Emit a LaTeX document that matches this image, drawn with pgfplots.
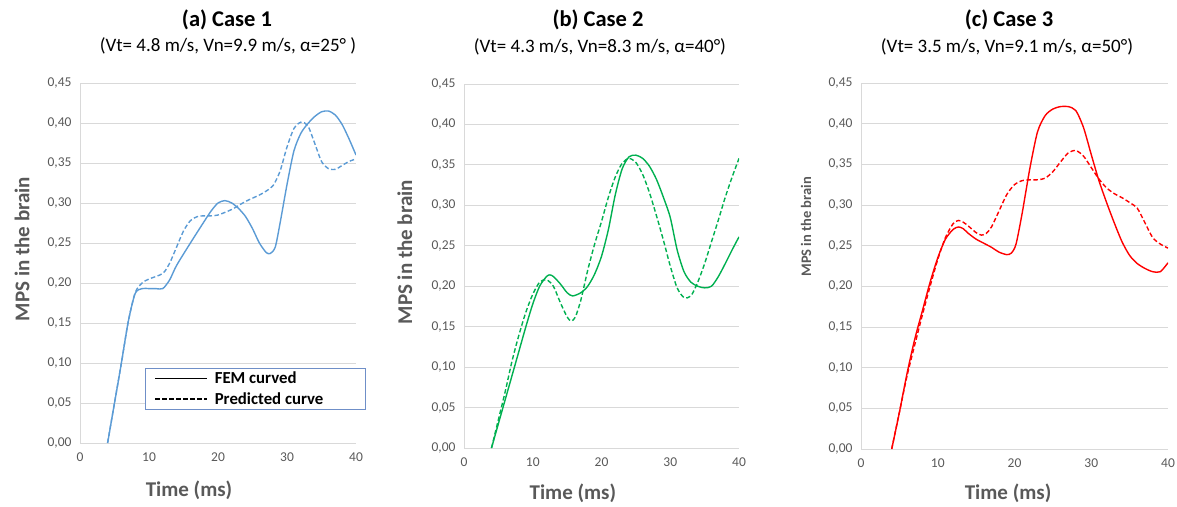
\documentclass[border=0pt]{standalone}
\usepackage{fontspec}
\setmainfont{Carlito}
\usepackage{pgfplots}
\pgfplotsset{compat=1.18}
\definecolor{txtgray}{HTML}{595959}
\definecolor{gridgray}{HTML}{D9D9D9}
\definecolor{caseblue}{HTML}{5B9BD5}
\definecolor{casegreen}{HTML}{00B050}
\definecolor{casered}{HTML}{FF0000}
\definecolor{legendblue}{HTML}{6F8FC8}

\pgfplotsset{
  mps/.style={
    scale only axis,
    xmin=0, xmax=40, ymin=0, ymax=0.45,
    xtick={0,10,20,30,40},
    ytick={0,0.05,0.1,0.15,0.2,0.25,0.3,0.35,0.4,0.45},
    axis x line=bottom, axis y line=left,
    axis line style={draw=gridgray, line width=0.8pt, -},
    major tick length=0pt,
    ymajorgrids, grid style={draw=gridgray, line width=0.8pt},
    /pgf/number format/assume math mode=true,
    tick label style={font=\fontsize{13.5}{15}\selectfont, text=txtgray},
    yticklabel style={/pgf/number format/fixed, /pgf/number format/fixed zerofill,
      /pgf/number format/precision=2, /pgf/number format/use comma, xshift=-5pt},
    xticklabel style={yshift=-6pt},
    xlabel={Time (ms)},
    ylabel={MPS in the brain},
    every axis x label/.style={anchor=center, text=txtgray, font=\fontsize{21}{24}\selectfont\bfseries},
    every axis y label/.style={anchor=center, rotate=90, text=txtgray, font=\fontsize{21}{24}\selectfont\bfseries},
  },
  fem/.style={line width=1.4pt, smooth, tension=0.45, no marks},
  pred/.style={line width=1.4pt, smooth, tension=0.45, no marks, dash pattern=on 4.5pt off 2.5pt},
}

\begin{document}
\begin{tikzpicture}
\path[use as bounding box] (0,0) rectangle (1177pt,-506pt);

% titles
\node[font=\fontsize{22.5}{24}\selectfont\bfseries] at (227pt,-20pt) {(a) Case 1};
\node[font=\fontsize{19}{21}\selectfont] at (228pt,-46pt) {(Vt= 4.8 m/s, Vn=9.9 m/s, α=25° )};
\node[font=\fontsize{22.5}{24}\selectfont\bfseries] at (598pt,-20pt) {(b) Case 2};
\node[font=\fontsize{19}{21}\selectfont] at (600pt,-47pt) {(Vt= 4.3 m/s, Vn=8.3 m/s, α=40°)};
\node[font=\fontsize{22.5}{24}\selectfont\bfseries] at (1009pt,-20pt) {(c) Case 3};
\node[font=\fontsize{19}{21}\selectfont] at (1007pt,-47pt) {(Vt= 3.5 m/s, Vn=9.1 m/s, α=50°)};

% (a)
\begin{axis}[mps,
  width=276pt, height=360pt,
  at={(80pt,-443pt)}, anchor=south west,
  xlabel style={at={(axis description cs:0.395,0)}, yshift=-47pt},
  ylabel style={at={(axis description cs:-0.21,0.539)}},
  legend style={at={(axis description cs:0.2355,0.0917)}, anchor=south west,
    draw=legendblue, line width=0.8pt, fill=white, text=black,
    font=\fontsize{16.8}{18}\selectfont\bfseries,
    inner xsep=9pt, inner ysep=2pt, row sep=3pt, legend cell align=left,
    /tikz/every odd column/.append style={column sep=5pt}},
  legend image code/.code={\draw[#1] (0pt,0pt) -- (52pt,0pt);},
]
\addplot[fem, caseblue, forget plot] coordinates {
 (4,0) (5,0.05) (6,0.10) (7,0.152) (8,0.187) (9,0.193) (10,0.193) (11,0.193)
 (12,0.193) (13,0.204) (14,0.222) (16,0.25) (18,0.277) (19,0.29) (20,0.300)
 (21,0.303) (22,0.300) (23,0.293) (24,0.283) (25,0.268) (26,0.25) (27,0.238)
 (27.6,0.237) (28.3,0.245) (29,0.275) (30,0.323) (31,0.365) (32,0.387) (33,0.399)
 (34,0.408) (35,0.414) (36,0.415) (37,0.41) (38,0.398) (39,0.38) (40,0.36)};
\addplot[pred, caseblue, forget plot] coordinates {
 (4,0) (5,0.05) (6,0.10) (7,0.152) (8,0.188) (9,0.2) (10,0.205) (12,0.212)
 (13,0.225) (14,0.245) (15,0.265) (16,0.278) (17,0.283) (18,0.284) (19,0.284)
 (20,0.285) (22,0.292) (24,0.302) (26,0.31) (27,0.315) (28,0.322) (29,0.34)
 (30,0.37) (31,0.393) (32,0.401) (33,0.397) (34,0.375) (35,0.352) (36,0.343)
 (37,0.342) (38,0.347) (39,0.352) (40,0.355)};
\addlegendimage{black, line width=1.4pt}
\addlegendentry{FEM curved}
\addlegendimage{black, line width=1.4pt, dash pattern=on 4.5pt off 2.5pt}
\addlegendentry{Predicted curve\hspace*{31pt}}
\end{axis}

% (b)
\begin{axis}[mps,
  width=275pt, height=364pt,
  at={(464pt,-448pt)}, anchor=south west,
  xlabel style={at={(axis description cs:0.396,0)}, yshift=-45pt},
  ylabel style={at={(axis description cs:-0.215,0.538)}},
]
\addplot[fem, casegreen] coordinates {
 (4,0) (5,0.03) (6,0.06) (7,0.09) (8,0.12) (9,0.15) (10,0.178) (11,0.2)
 (12,0.212) (12.5,0.214) (13,0.212) (14,0.203) (15,0.192) (15.8,0.188)
 (17,0.192) (18,0.2) (19,0.215) (20,0.237) (21,0.27) (22,0.313) (23,0.345)
 (24,0.36) (25,0.362) (26,0.358) (27,0.348) (28,0.332) (29,0.31) (30,0.285)
 (31,0.245) (32,0.218) (33,0.205) (34,0.2) (35,0.198) (36,0.2) (37,0.212)
 (38,0.228) (39,0.245) (40,0.261)};
\addplot[pred, casegreen] coordinates {
 (4,0) (5,0.035) (6,0.07) (7,0.108) (8,0.14) (9,0.168) (10,0.19) (11,0.205)
 (12,0.208) (13,0.2) (14,0.18) (15,0.162) (15.6,0.157) (16.2,0.162) (17,0.183)
 (18,0.22) (19,0.252) (20,0.28) (21,0.31) (22,0.335) (23,0.352) (24,0.358)
 (25,0.353) (26,0.338) (27,0.315) (28,0.287) (29,0.257) (30,0.225) (31,0.198)
 (32,0.186) (33,0.188) (34,0.205) (35,0.228) (36,0.255) (37,0.282) (38,0.31)
 (39,0.335) (40,0.358)};
\end{axis}

% (c)
\begin{axis}[mps,
  width=307pt, height=366pt,
  at={(861pt,-449pt)}, anchor=south west,
  xlabel style={at={(axis description cs:0.479,0)}, yshift=-44pt},
  ylabel style={at={(axis description cs:-0.179,0.607)}, font=\fontsize{14.5}{16}\selectfont\bfseries},
]
\addplot[fem, casered] coordinates {
 (4,0) (5,0.045) (6,0.093) (7,0.135) (8,0.17) (9,0.205) (10,0.235) (11,0.258)
 (12,0.27) (12.7,0.273) (13.3,0.271) (14,0.265) (15,0.258) (16,0.253) (17,0.248)
 (18,0.242) (19,0.239) (19.6,0.241) (20.2,0.252) (21,0.29) (22,0.345) (23,0.39)
 (24,0.41) (25,0.418) (26,0.421) (27,0.421) (28,0.416) (29,0.395) (30,0.362)
 (31,0.33) (32,0.303) (33,0.278) (34,0.255) (35,0.238) (36,0.228) (37,0.222)
 (38,0.218) (39,0.218) (40,0.229)};
\addplot[pred, casered] coordinates {
 (4,0) (5,0.045) (6,0.09) (7,0.128) (8,0.165) (9,0.2) (10,0.233) (11,0.26)
 (12,0.277) (12.7,0.281) (13.3,0.279) (14,0.274) (15,0.266) (15.7,0.263)
 (16.3,0.265) (17,0.273) (18,0.293) (19,0.313) (20,0.325) (21,0.33) (22,0.331)
 (23,0.331) (24,0.333) (25,0.341) (26,0.353) (27,0.364) (28,0.367) (29,0.36)
 (30,0.346) (31,0.332) (32,0.321) (33,0.314) (34,0.309) (35,0.303) (36,0.296)
 (37,0.278) (38,0.26) (39,0.252) (40,0.247)};
\end{axis}
\end{tikzpicture}
\end{document}
